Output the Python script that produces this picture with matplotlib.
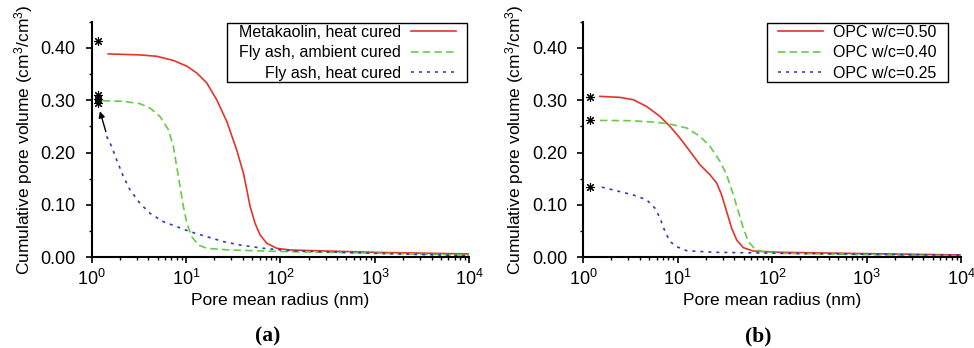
import matplotlib
matplotlib.use("Agg")
import matplotlib.pyplot as plt
from matplotlib.path import Path
from matplotlib.ticker import LogLocator, MultipleLocator, FormatStrFormatter

plt.rcParams['font.family'] = ['Liberation Sans', 'DejaVu Sans']
plt.rcParams['mathtext.fontset'] = 'custom'
plt.rcParams['mathtext.rm'] = 'Liberation Sans'
plt.rcParams['mathtext.it'] = 'Liberation Sans:italic'

# ---- panel (a): geopolymers ----
mk_r = [1.50, 3.25, 4.89, 7.34, 10.2, 13.0, 16.6, 21.1, 27.0, 34.4, 40.5, 44.0, 47.7,
        53.8, 60.8, 71.6, 91.4, 126, 1000, 10000]
mk_v = [0.3885, 0.3866, 0.384, 0.376, 0.365, 0.352, 0.333, 0.301, 0.2596, 0.205, 0.161,
        0.129, 0.097, 0.065, 0.0427, 0.0268, 0.0172, 0.014, 0.0095, 0.0064]

fa_amb_r = [1.31, 2.17, 3.25, 4.15, 5.3, 6.5, 7.34, 7.96, 8.64, 9.37, 10.2, 11.5, 13.5,
            16.6, 29.3, 126, 1000, 10000]
fa_amb_v = [0.299, 0.298, 0.2934, 0.285, 0.269, 0.2436, 0.2117, 0.1734, 0.135, 0.0968,
            0.065, 0.0394, 0.0235, 0.0172, 0.014, 0.0107, 0.008, 0.004]

fa_heat_r = [1.44, 1.63, 1.84, 2.17, 2.55, 3.25, 4.15, 5.75, 7.96, 11.0, 16.6, 24.9, 37.3,
             66, 126, 1000, 10000]
fa_heat_v = [0.231, 0.2117, 0.186, 0.154, 0.129, 0.103, 0.084, 0.068, 0.0586, 0.049,
             0.0394, 0.030, 0.0235, 0.0172, 0.0126, 0.0076, 0.003]

stars_a_r = [1.175, 1.175, 1.175, 1.175]
stars_a_v = [0.4126, 0.3106, 0.3024, 0.2947]

# ---- panel (b): OPC ----
opc50_r = [1.51, 2.46, 3.41, 4.72, 6.53, 8.33, 10.6, 13.6, 17.3, 22.1, 26.0, 29.3, 33.1,
           37.4, 42.3, 49.7, 63.2, 121, 1000, 10000]
opc50_v = [0.3074, 0.3055, 0.301, 0.288, 0.269, 0.250, 0.2277, 0.202, 0.1766, 0.1575,
           0.1416, 0.119, 0.0873, 0.0555, 0.033, 0.0184, 0.012, 0.0096, 0.007, 0.0045]

opc40_r = [1.51, 3.14, 5.55, 8.33, 12.5, 17.3, 22.1, 28.2, 33.1, 39.0, 44.0, 49.7, 56.2,
           66.1, 81, 121, 1000, 10000]
opc40_v = [0.2614, 0.261, 0.2583, 0.2545, 0.247, 0.231, 0.2117, 0.183, 0.1575, 0.119,
           0.0873, 0.0555, 0.030, 0.0153, 0.0107, 0.0077, 0.005, 0.003]

opc25_r = [1.58, 2.27, 3.41, 4.72, 5.78, 6.53, 7.38, 8.33, 9.8, 12.5, 23.9, 121, 1000, 10000]
opc25_v = [0.134, 0.127, 0.119, 0.1097, 0.0937, 0.0746, 0.049, 0.030, 0.0203, 0.0126,
           0.0096, 0.0077, 0.006, 0.004]

stars_b_r = [1.19, 1.19, 1.19]
stars_b_v = [0.3055, 0.2614, 0.134]

RED = '#e3342b'
GREEN = '#66cc44'
BLUE = '#2b3fb5'
STAR = (8, 2, 0)


def wide_box(x0, y0, width, height, mutation_size):
    # legend frame with more padding left/right than top/bottom
    px = 0.6 * mutation_size
    xa, xb = x0 - px, x0 + width + px
    yb = y0 + height
    return Path([(xa, y0), (xb, y0), (xb, yb), (xa, yb), (xa, y0)], closed=True)


fig = plt.figure(figsize=(9.74, 3.48), dpi=100)
ax_a = fig.add_axes([0.0941, 0.2606, 0.3877, 0.677])
ax_b = fig.add_axes([0.5986, 0.2606, 0.3881, 0.677])


def style_axes(ax):
    ax.set_xscale('log')
    ax.set_xlim(1, 1e4)
    ax.set_ylim(0, 0.45)
    for s in ['top', 'right']:
        ax.spines[s].set_visible(False)
    for s in ['left', 'bottom']:
        ax.spines[s].set_linewidth(1.5)
    ax.yaxis.set_major_locator(MultipleLocator(0.1))
    ax.yaxis.set_minor_locator(MultipleLocator(0.05))
    ax.yaxis.set_major_formatter(FormatStrFormatter('%.2f'))
    ax.xaxis.set_major_locator(LogLocator(base=10, numticks=10))
    ax.xaxis.set_minor_locator(LogLocator(base=10, subs=[2, 3, 4, 5, 6, 7, 8, 9], numticks=20))
    ax.tick_params(which='major', direction='out', length=4.5, width=1.2, labelsize=13)
    ax.tick_params(which='minor', direction='out', length=2.5, width=1.0)
    ax.tick_params(axis='y', which='major', pad=7)
    ax.tick_params(axis='x', which='major', pad=4)
    ax.set_xlabel('Pore mean radius (nm)', fontsize=12.5, labelpad=3)
    ax.set_ylabel('Cumulative pore volume (cm$^3$/cm$^3$)', fontsize=12.5, labelpad=4)


def style_legend(leg):
    leg.get_frame().set_linewidth(1.0)
    leg.legendPatch.set_boxstyle(wide_box)


leg_kw = dict(fontsize=11.5, fancybox=False, edgecolor='black', framealpha=1,
              handlelength=2.8, borderpad=0.1, labelspacing=0.34, handletextpad=0.65,
              borderaxespad=0)

style_axes(ax_a)
ax_a.plot(mk_r, mk_v, color=RED, lw=1.2, label='Metakaolin, heat cured')
ax_a.plot(fa_amb_r, fa_amb_v, color=GREEN, lw=1.2, ls=(0, (4.5, 2.5)), label='Fly ash, ambient cured')
ax_a.plot(fa_heat_r, fa_heat_v, color=BLUE, lw=1.2, ls=(0, (1.8, 3)), label='Fly ash, heat cured')
ax_a.plot(stars_a_r, stars_a_v, ls='none', marker=STAR, color='black', ms=6.5, mew=0.8)
ax_a.annotate('', xy=(1.20, 0.284), xytext=(1.44, 0.235),
              arrowprops=dict(arrowstyle='-|>', color='black', lw=1, mutation_scale=9))
leg_a = ax_a.legend(loc='upper right', markerfirst=False, bbox_to_anchor=(0.9685, 0.994), **leg_kw)
leg_a._legend_box.align = 'right'
style_legend(leg_a)

style_axes(ax_b)
ax_b.plot(opc50_r, opc50_v, color=RED, lw=1.2, label='OPC w/c=0.50')
ax_b.plot(opc40_r, opc40_v, color=GREEN, lw=1.2, ls=(0, (4.5, 2.5)), label='OPC w/c=0.40')
ax_b.plot(opc25_r, opc25_v, color=BLUE, lw=1.2, ls=(0, (1.8, 3)), label='OPC w/c=0.25')
ax_b.plot(stars_b_r, stars_b_v, ls='none', marker=STAR, color='black', ms=6.5, mew=0.8)
leg_b = ax_b.legend(loc='upper right', bbox_to_anchor=(0.9402, 0.994), **leg_kw)
style_legend(leg_b)

fig.text(0.275, 0.018, '(a)', fontsize=15.5, fontweight='bold', family='Liberation Serif', ha='center')
fig.text(0.779, 0.018, '(b)', fontsize=15.5, fontweight='bold', family='Liberation Serif', ha='center')

fig.savefig('out.png', dpi=100)
